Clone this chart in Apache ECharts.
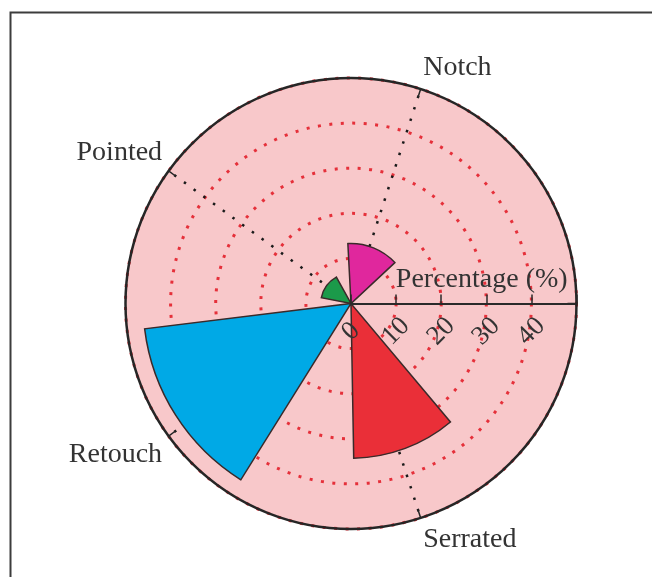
<!DOCTYPE html>
<html>
<head>
<meta charset="utf-8">
<script src="https://cdn.jsdelivr.net/npm/echarts@6/dist/echarts.min.js"></script>
<style>
  html, body { margin: 0; padding: 0; background: #fff; }
  #chart { width: 652px; height: 577px; }
</style>
</head>
<body>
<div id="chart"></div>
<script>
// rose sectors, one per retouch class
const categories = ['Notch', 'Pointed', 'Retouch', 'Serrated'];
const categoryAngles = [72, 144, 216, 288];
const percentages = [13.3, 6.7, 46.1, 34.3];
const sectorStart = [43, 119, 187, 271];
const sectorEnd = [93, 169, 238, 310];
const radiusTicks = [0, 10, 20, 30, 40];
const radiusMax = 50;

const sectorColors = ['#e0279d', '#1b9a4a', '#00a9e6', '#ea2f38'];
const serif = '"Liberation Serif", "DejaVu Serif", serif';
const polarCenter = [351, 303.5];
const polarRadius = 225.5;

const chart = echarts.init(document.getElementById('chart'));

const sectorData = percentages.map((p, i) => [p, sectorStart[i], sectorEnd[i]]);
const spokeData = categoryAngles.map((a) => [radiusMax, a]);

const angleBase = { type: 'value', min: 0, max: 360, interval: 72, startAngle: 0, clockwise: false };
const radiusBase = { type: 'value', min: 0, max: radiusMax, interval: 10 };
const off = { show: false };

chart.setOption({
  backgroundColor: '#fff',
  animation: false,
  graphic: [
    {
      type: 'polyline',
      shape: { points: [[10.5, 580], [10.5, 12.5], [660, 12.5]] },
      style: { stroke: '#3c3c3c', lineWidth: 2, fill: null },
      z: 10
    }
  ],
  // polar 0: background + grid rings (under the sectors)
  // polar 1: outline, ticks and labels (over the sectors)
  polar: [
    { center: polarCenter, radius: polarRadius },
    { center: polarCenter, radius: polarRadius }
  ],
  angleAxis: [
    Object.assign({}, angleBase, {
      polarIndex: 0,
      z: 0,
      axisLine: off, axisTick: off, axisLabel: off, splitLine: off,
      splitArea: { show: true, areaStyle: { color: ['#f8c8ca'] } }
    }),
    Object.assign({}, angleBase, {
      polarIndex: 1,
      z: 4,
      axisLine: { show: true, lineStyle: { color: '#262626', width: 2.5 } },
      axisTick: { show: true, inside: true, length: 9, lineStyle: { color: '#262626', width: 1.5 } },
      splitLine: off,
      splitArea: off,
      axisLabel: {
        show: true,
        margin: 8,
        fontSize: 28,
        fontFamily: serif,
        color: '#333',
        formatter: (v) => {
          const i = categoryAngles.indexOf(v);
          return i >= 0 ? categories[i] : '';
        }
      }
    })
  ],
  radiusAxis: [
    Object.assign({}, radiusBase, {
      polarIndex: 0,
      z: 1,
      axisLine: off, axisTick: off, axisLabel: off, splitArea: off,
      splitLine: { show: true, lineStyle: { color: '#e5303a', width: 3, type: [3, 8.5] } }
    }),
    Object.assign({}, radiusBase, {
      polarIndex: 1,
      z: 4,
      name: 'Percentage (%)',
      nameLocation: 'middle',
      nameGap: -24,
      nameMoveOverlap: false,
      nameTextStyle: {
        fontSize: 28, fontFamily: serif, color: '#333',
        padding: [0, 0, 0, 36], verticalAlign: 'middle'
      },
      axisLine: { show: true, lineStyle: { color: '#2a2a2a', width: 2 } },
      axisTick: { show: true, length: 9, lineStyle: { color: '#2a2a2a', width: 1.5 } },
      axisLabel: {
        show: true,
        rotate: 45,
        margin: -28,
        align: 'center',
        verticalAlign: 'middle',
        fontSize: 27,
        fontFamily: serif,
        color: '#333',
        formatter: (v) => (radiusTicks.indexOf(v) >= 0 ? String(v) : '')
      },
      splitLine: off,
      splitArea: off
    })
  ],
  series: [
    {
      // dotted spokes along each class direction, under the sectors
      type: 'custom',
      coordinateSystem: 'polar',
      polarIndex: 0,
      z: 2,
      silent: true,
      data: spokeData,
      renderItem: function (params, api) {
        const cs = params.coordSys;
        const p = api.coord([api.value(0), api.value(1)]);
        return {
          type: 'line',
          shape: { x1: cs.cx, y1: cs.cy, x2: p[0], y2: p[1] },
          style: { stroke: '#1a1a1a', lineWidth: 2.5, lineDash: [2.5, 9.5] }
        };
      }
    },
    {
      type: 'custom',
      coordinateSystem: 'polar',
      polarIndex: 0,
      z: 3,
      dimensions: ['pct', 'start', 'end'],
      encode: { radius: 0, angle: 1 },
      data: sectorData,
      renderItem: function (params, api) {
        const cs = params.coordSys;
        const v = api.value(0);
        const p0 = api.coord([v, api.value(1)]);
        const p1 = api.coord([v, api.value(2)]);
        const r = Math.hypot(p0[0] - cs.cx, p0[1] - cs.cy);
        const s = Math.atan2(p1[1] - cs.cy, p1[0] - cs.cx);
        let e = Math.atan2(p0[1] - cs.cy, p0[0] - cs.cx);
        if (e < s) e += Math.PI * 2;
        return {
          type: 'sector',
          shape: { cx: cs.cx, cy: cs.cy, r0: 0, r: r, startAngle: s, endAngle: e, clockwise: true },
          style: { fill: sectorColors[params.dataIndex], stroke: '#3a2a2a', lineWidth: 1.5 }
        };
      }
    }
  ]
});
</script>
</body>
</html>
